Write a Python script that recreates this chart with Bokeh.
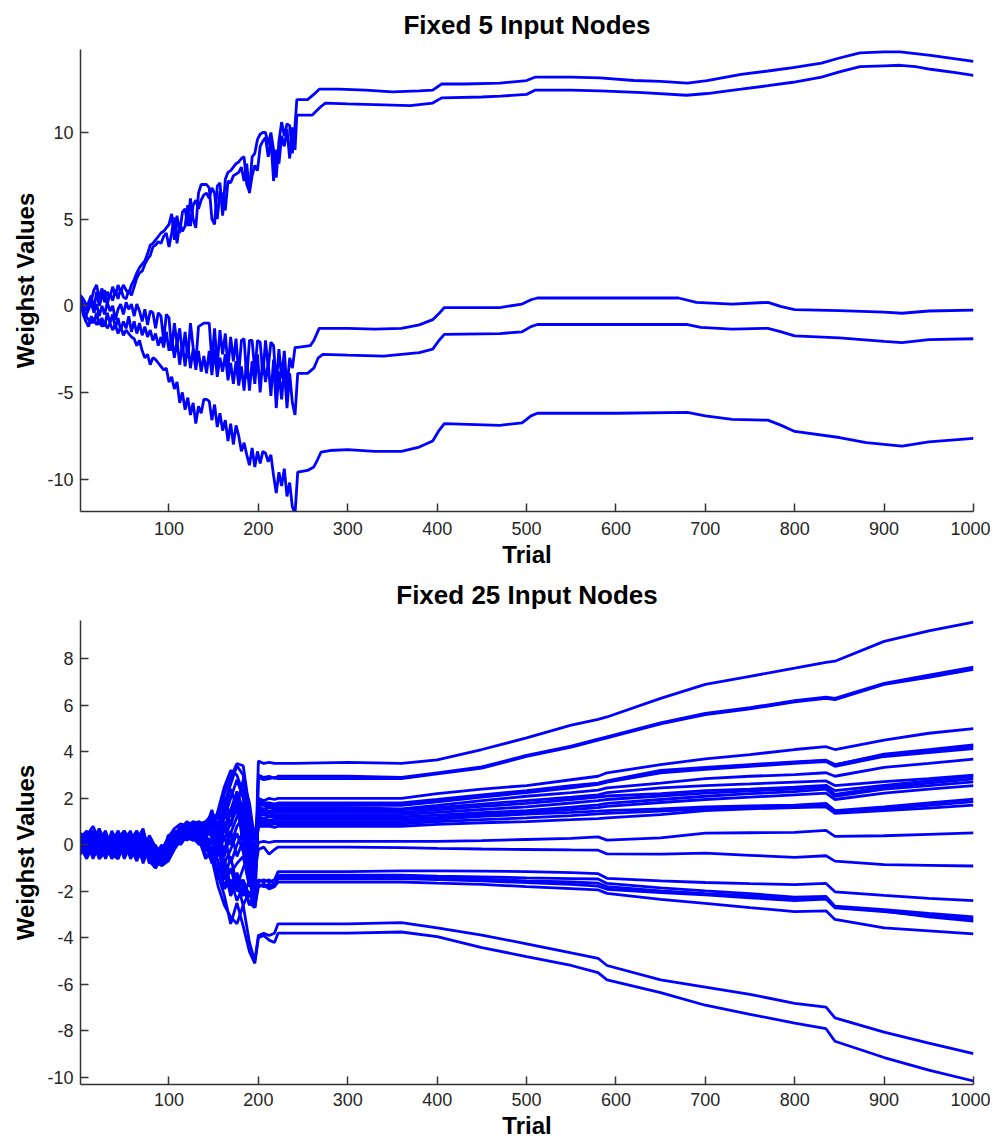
from bokeh.plotting import figure
from bokeh.layouts import column
from bokeh.models import Range1d, FixedTicker
from bokeh.embed import file_html
from bokeh.resources import INLINE

# ---------------- data: Fixed 5 Input Nodes ----------------
TOP_EARLY_T = [1, 4, 7, 10, 13, 16, 19, 22, 25, 28, 31, 34, 37, 40, 43, 46, 49, 52, 55, 58,
               61, 64, 67, 70, 73, 76, 79, 82, 85, 88, 91, 94, 97, 100, 103, 106, 109, 112, 115, 118,
               121, 124, 127, 130, 133, 136, 139, 142, 145, 148, 151, 154, 157, 160, 163, 166, 169, 172, 175, 178,
               181, 184, 187, 190, 193, 196, 199, 202, 205, 208, 211, 214, 217, 220, 223, 226, 229, 232, 235, 238,
               241]

w5_a_early = [0.6, 0.4, 0.1, -0.2, 0.3, 0.9, 1.2, 0.4, 1.0, 0.2,
              0.8, 0.5, 1.1, 0.6, 1.2, 0.8, 1.2, 0.9, 0.7, 1.2,
              1.5, 1.9, 2.2, 2.4, 2.6, 3.0, 3.5, 3.6, 3.8, 4.0,
              4.2, 4.3, 4.5, 4.7, 5.3, 3.8, 5.2, 4.2, 5.4, 5.6,
              4.6, 6.2, 5.0, 4.5, 6.5, 7.0, 7.0, 7.0, 6.8, 5.0,
              4.7, 6.9, 7.1, 5.2, 7.3, 7.7, 7.8, 8.0, 8.2, 8.3,
              8.5, 8.6, 7.0, 6.6, 8.6, 8.8, 9.6, 9.9, 10.0, 10.0,
              9.3, 10.0, 9.0, 7.4, 9.5, 10.6, 9.8, 10.5, 10.4, 8.8,
              10.4]
w5_a_late_t = [243, 248, 255, 262, 268, 290, 320, 350, 380, 395, 405, 430, 470, 500, 510, 550, 582,
               620, 650, 680, 702, 740, 770, 798, 830, 850, 873, 900, 918, 935, 952, 980, 1000]
w5_a_late = [11.9, 11.9, 11.9, 12.2, 12.5, 12.5, 12.45, 12.35, 12.4, 12.45, 12.8, 12.8, 12.85, 13.0, 13.2,
             13.2, 13.15, 13.0, 12.95, 12.85, 13.0, 13.35, 13.55, 13.75, 14.0, 14.3, 14.6, 14.65, 14.65,
             14.55, 14.45, 14.25, 14.1]

w5_b_early = [0.5, 0.0, -0.3, 0.2, 0.6, -0.2, 0.8, 0.0, 0.5, 0.9,
              0.1, 0.7, 0.3, 0.9, 0.4, 1.0, 0.5, 0.4, 0.9, 0.6,
              1.1, 1.6, 1.9, 2.0, 2.4, 2.7, 2.9, 3.4, 3.5, 3.7,
              3.6, 4.0, 4.2, 3.4, 4.2, 5.1, 3.6, 4.8, 4.3, 4.6,
              5.8, 4.6, 5.8, 6.1, 5.6, 6.1, 6.4, 6.5, 6.2, 6.8,
              6.5, 5.0, 6.6, 6.4, 5.5, 7.2, 7.1, 7.5, 7.6, 7.7,
              8.0, 7.2, 8.2, 6.5, 7.5, 8.1, 7.8, 9.2, 9.5, 9.7,
              8.6, 9.6, 7.2, 9.0, 8.2, 9.8, 9.2, 10.2, 8.5, 10.3,
              9.0]
w5_b_late_t = [243, 248, 260, 270, 275, 300, 340, 370, 395, 405, 450, 471, 500, 510, 550, 582, 630,
               679, 702, 740, 770, 798, 830, 850, 873, 900, 918, 935, 952, 980, 1000]
w5_b_late = [11.0, 11.0, 11.0, 11.5, 11.7, 11.65, 11.6, 11.55, 11.7, 12.0, 12.05, 12.1, 12.2, 12.45, 12.45,
             12.4, 12.3, 12.15, 12.25, 12.5, 12.7, 12.9, 13.2, 13.5, 13.8, 13.85, 13.88, 13.8, 13.65,
             13.45, 13.3]

w5_c_early = [0.3, -0.3, -0.6, -0.2, 0.2, -0.4, 0.1, -0.6, 0.0, -0.5,
              0.2, -0.3, 0.0, -0.8, -0.2, 0.1, -0.5, 0.2, -0.2, 0.1,
              -0.6, 0.1, -0.3, -0.9, -0.2, -1.1, -0.3, -0.4, -1.3, -0.4,
              -0.6, -2.0, -0.5, -0.7, -2.6, -1.0, -2.2, -1.3, -2.8, -1.5,
              -3.0, -1.0, -2.4, -3.3, -1.2, -1.1, -1.0, -1.0, -1.0, -3.2,
              -1.3, -3.5, -1.4, -2.8, -1.6, -3.6, -1.8, -3.2, -1.9, -4.0,
              -2.0, -1.9, -4.2, -2.0, -2.0, -3.8, -2.0, -2.1, -4.0, -2.0,
              -3.6, -2.1, -2.3, -4.6, -2.5, -4.2, -2.6, -4.8, -3.0, -3.6,
              -2.4]
w5_c_late_t = [244, 258, 262, 268, 275, 300, 330, 360, 380, 395, 402, 408, 450, 470, 495, 505, 512,
               550, 600, 670, 690, 730, 770, 785, 800, 850, 900, 920, 950, 1000]
w5_c_late = [-2.4, -2.3, -2.0, -1.3, -1.3, -1.3, -1.35, -1.3, -1.1, -0.8, -0.45, -0.1, -0.1, -0.1, 0.1,
             0.35, 0.45, 0.45, 0.45, 0.45, 0.2, 0.1, 0.2, -0.05, -0.22, -0.28, -0.36, -0.43, -0.3, -0.25]

w5_d_early = [0.2, -0.5, -0.9, -1.2, -0.6, -1.0, -0.4, -1.1, -0.7, -1.2,
              -0.4, -1.0, -0.5, -1.3, -0.7, -1.4, -0.9, -1.3, -0.6, -1.5,
              -0.9, -1.6, -1.0, -1.7, -1.2, -1.8, -1.4, -2.0, -1.6, -2.3,
              -1.8, -2.4, -1.5, -2.6, -1.8, -3.0, -2.0, -3.4, -2.2, -3.5,
              -2.2, -3.6, -2.5, -3.7, -2.6, -3.8, -2.9, -3.9, -2.6, -4.0,
              -2.5, -4.1, -3.0, -3.8, -2.8, -4.3, -3.3, -4.5, -3.2, -4.6,
              -3.5, -4.9, -3.0, -4.9, -3.2, -4.5, -2.8, -5.0, -3.0, -4.4,
              -3.3, -5.2, -3.1, -5.9, -3.8, -5.4, -3.6, -5.9, -3.9, -5.6,
              -6.3]
w5_d_late_t = [244, 255, 262, 267, 272, 300, 340, 380, 395, 402, 408, 470, 495, 505, 512, 600, 680,
               695, 730, 770, 785, 800, 850, 900, 920, 950, 1000]
w5_d_late = [-3.9, -3.9, -3.6, -3.0, -2.8, -2.85, -2.9, -2.7, -2.5, -2.0, -1.65, -1.6, -1.5, -1.2, -1.08,
             -1.08, -1.08, -1.25, -1.35, -1.3, -1.5, -1.74, -1.85, -2.05, -2.12, -1.95, -1.9]

w5_e_early = [0.0, -0.3, -0.6, -0.8, -1.0, -0.7, -1.1, -0.8, -1.2, -0.9,
              -1.3, -1.0, -1.4, -1.1, -1.6, -1.2, -1.7, -1.4, -1.6, -1.8,
              -1.9, -2.3, -2.0, -2.6, -3.0, -2.8, -3.4, -3.0, -3.1, -3.3,
              -3.5, -3.7, -3.6, -4.4, -4.1, -4.8, -4.4, -5.6, -5.0, -6.0,
              -5.3, -6.3, -5.6, -6.8, -5.8, -6.2, -5.4, -5.4, -5.5, -6.6,
              -5.7, -7.0, -6.2, -7.2, -6.6, -7.8, -6.8, -8.0, -6.9, -7.5,
              -8.4, -7.9, -8.6, -9.2, -8.2, -9.3, -8.4, -9.1, -8.4, -8.5,
              -9.0, -8.6, -9.8, -10.8, -9.6, -10.4, -9.4, -11.0, -10.2, -11.6,
              -12.0]
w5_e_late_t = [244, 255, 262, 266, 270, 280, 300, 330, 360, 380, 395, 402, 408, 470, 495, 505, 512,
               600, 680, 700, 730, 770, 785, 800, 850, 880, 900, 920, 950, 1000]
w5_e_late = [-9.6, -9.5, -9.3, -8.9, -8.45, -8.35, -8.3, -8.4, -8.4, -8.15, -7.8, -7.2, -6.8, -6.9, -6.75,
             -6.35, -6.2, -6.2, -6.15, -6.35, -6.55, -6.6, -6.9, -7.25, -7.6, -7.9, -8.0, -8.1, -7.85, -7.65]

# ---------------- data: Fixed 25 Input Nodes ----------------
BOT_T = [1, 8, 15, 22, 29, 36, 43, 50, 57, 64, 71, 78, 85, 92, 99, 106, 113, 120, 127, 134, 141,
         148, 155, 162, 169, 176, 183, 190, 196, 200, 206, 212, 218, 222,
         240, 300, 360, 400, 450, 500, 550, 580, 590, 650, 700, 750, 800, 835, 845, 900, 950, 1000]

w25_01 = [0.3, 0.6, 0.1, 0.7, 0.0, 0.5, 0.2, 0.6, 0.1, 0.5, -0.2, 0.1, -0.3, -0.2, 0.3, 0.7, 0.9, 0.8, 1.0, 0.9, 1.0,
          1.3, 1.2, 2.2, 2.9, 3.5, 3.4, 1.5, -1.8, 3.6, 3.5, 3.55, 3.5, 3.5,
          3.5, 3.55, 3.5, 3.65, 4.1, 4.6, 5.15, 5.4, 5.5, 6.3, 6.9, 7.25, 7.6, 7.85, 7.9, 8.75, 9.2, 9.58]
w25_02 = [0.0, 0.4, 0.8, 0.2, 0.3, -0.1, 0.6, 0.0, 0.5, -0.1, 0.6, -0.2, -0.5, -0.1, 0.1, 0.5, 0.7, 1.0, 0.8, 0.9, 0.6,
          1.0, 0.8, 1.8, 2.6, 3.4, 3.0, 0.5, -2.4, 3.0, 2.9, 2.95, 2.85, 2.95,
          2.95, 2.95, 2.9, 3.1, 3.35, 3.85, 4.25, 4.55, 4.65, 5.25, 5.65, 5.9, 6.2, 6.35, 6.3, 6.95, 7.3, 7.64]
w25_03 = [0.2, -0.2, 0.5, -0.4, 0.2, 0.4, -0.3, 0.3, -0.2, 0.4, 0.1, 0.0, -0.6, -0.4, 0.0, 0.3, 0.5, 0.6, 0.9, 0.7, 0.8,
          0.6, 1.5, 2.5, 3.2, 3.0, 2.2, -0.5, -2.6, 2.9, 2.8, 2.85, 2.9, 2.85,
          2.85, 2.85, 2.85, 3.05, 3.3, 3.8, 4.2, 4.5, 4.6, 5.2, 5.6, 5.85, 6.15, 6.3, 6.25, 6.9, 7.2, 7.55]
w25_04 = [-0.3, 0.5, 0.0, 0.6, -0.2, 0.3, 0.5, -0.1, 0.4, 0.0, 0.5, -0.4, -0.1, -0.6, 0.2, 0.4, 0.8, 0.6, 0.9, 1.0, 0.7,
          1.5, 0.5, 1.2, 2.0, 2.8, 2.0, 0.0, -1.5, 2.0, 1.9, 2.0, 1.95, 2.0,
          2.0, 2.0, 2.0, 2.2, 2.4, 2.55, 2.8, 2.95, 3.1, 3.45, 3.7, 3.88, 4.1, 4.22, 4.1, 4.5, 4.8, 5.0]
w25_05 = [0.4, 0.0, -0.4, 0.3, 0.1, -0.3, 0.2, 0.5, -0.3, 0.3, -0.5, 0.2, -0.2, -0.4, 0.3, 0.6, 0.4, 0.9, 0.5, 0.8, 0.9,
          0.3, 1.0, 0.5, 1.5, 2.3, 1.5, -0.5, -1.0, 1.9, 1.8, 1.8, 1.75, 1.8,
          1.8, 1.8, 1.8, 1.95, 2.15, 2.33, 2.55, 2.65, 2.75, 3.2, 3.33, 3.45, 3.57, 3.64, 3.45, 3.88, 4.03, 4.23]
w25_06 = [0.2, -0.1, 0.3, 0.0, -0.4, 0.5, 0.0, -0.2, 0.5, 0.1, -0.4, 0.4, -0.1, -0.3, 0.1, 0.4, 0.5, 0.9, 0.6, 1.0, 0.5,
          1.0, 0.4, 1.4, 2.4, 1.6, 2.8, 1.8, 0.2, 1.75, 1.75, 1.7, 1.75, 1.75,
          1.75, 1.75, 1.72, 1.9, 2.1, 2.3, 2.5, 2.62, 2.72, 3.15, 3.3, 3.42, 3.55, 3.62, 3.43, 3.9, 4.1, 4.3]
w25_07 = [-0.1, 0.3, 0.6, -0.5, 0.4, 0.1, -0.5, 0.2, 0.6, -0.6, 0.3, -0.3, -0.8, -0.3, -0.2, 0.2, 0.6, 0.4, 0.7, 0.5, 1.0,
          0.8, 0.2, 1.3, 0.8, 1.8, 0.8, -1.0, -1.2, 1.7, 1.7, 1.65, 1.7, 1.7,
          1.7, 1.7, 1.7, 1.85, 2.05, 2.25, 2.45, 2.6, 2.7, 3.1, 3.25, 3.38, 3.5, 3.58, 3.38, 3.8, 3.97, 4.14]
w25_08 = [0.1, -0.4, 0.2, 0.5, -0.4, 0.6, 0.0, -0.3, 0.2, 0.6, -0.1, 0.1, -0.7, -0.1, -0.4, 0.5, 0.3, 0.7, 0.4, 0.6, 0.5,
          1.1, 0.0, 0.8, 1.4, 2.0, 2.4, 1.2, -0.5, 1.6, 1.55, 1.6, 1.6, 1.6,
          1.6, 1.6, 1.55, 1.7, 1.9, 2.09, 2.25, 2.35, 2.45, 2.65, 2.85, 2.95, 3.02, 3.1, 2.95, 3.33, 3.5, 3.69]
w25_09 = [-0.3, 0.2, 0.3, 0.5, -0.1, -0.4, 0.3, 0.6, 0.0, -0.5, 0.1, 0.1, -0.2, -0.6, 0.4, 0.5, 0.6, 0.3, 0.8, 0.4, 0.7,
          0.7, 1.4, 2.0, 1.2, 2.2, 1.0, 0.2, -1.0, 1.5, 1.5, 1.45, 1.5, 1.5,
          1.5, 1.5, 1.5, 1.6, 1.75, 1.9, 2.05, 2.15, 2.25, 2.45, 2.55, 2.62, 2.7, 2.75, 2.55, 2.72, 2.85, 3.0]
w25_10 = [0.5, 0.2, -0.3, 0.0, 0.3, -0.5, 0.4, -0.2, 0.0, 0.2, 0.7, -0.6, 0.0, -0.8, 0.1, 0.0, 0.5, 0.3, 0.6, 0.3, 0.4,
          0.5, 1.3, 0.2, 1.0, 1.5, 0.5, -1.5, -2.7, 1.4, 1.4, 1.35, 1.4, 1.4,
          1.4, 1.4, 1.4, 1.5, 1.65, 1.78, 1.95, 2.05, 2.1, 2.2, 2.33, 2.4, 2.48, 2.56, 2.33, 2.56, 2.75, 2.95]
w25_11 = [-0.4, 0.1, 0.4, -0.6, 0.0, 0.2, -0.2, 0.4, -0.5, 0.1, -0.3, 0.0, -0.9, -0.5, -0.6, 0.1, 0.2, 0.5, 0.3, 0.4, 0.2,
          -0.2, 0.6, -0.5, 0.5, 1.2, 1.8, 0.8, -0.8, 1.3, 1.3, 1.25, 1.3, 1.3,
          1.3, 1.3, 1.3, 1.4, 1.52, 1.63, 1.8, 1.9, 1.95, 2.1, 2.22, 2.32, 2.4, 2.48, 2.17, 2.48, 2.65, 2.84]
w25_12 = [0.2, -0.5, 0.0, 0.4, -0.3, 0.0, 0.6, -0.4, 0.3, -0.4, 0.2, -0.8, -0.4, 0.0, -0.5, 0.4, 0.0, 0.4, 0.7, 0.2, 0.3,
          0.9, -0.3, 1.0, 0.0, 0.8, 1.2, -0.3, -0.6, 1.2, 1.15, 1.2, 1.2, 1.2,
          1.2, 1.2, 1.2, 1.28, 1.38, 1.47, 1.62, 1.72, 1.78, 1.95, 2.09, 2.2, 2.29, 2.4, 2.09, 2.4, 2.55, 2.71]
w25_13 = [0.4, 0.1, -0.5, -0.1, 0.4, 0.1, -0.4, 0.0, 0.4, -0.3, 0.5, -0.1, -0.4, -0.5, -0.1, 0.6, 0.2, 0.7, 0.2, 0.6, 0.4,
          0.0, 0.7, 1.6, 0.9, 1.8, 0.0, -1.0, -1.8, 1.1, 1.1, 1.05, 1.1, 1.1,
          1.1, 1.1, 1.1, 1.18, 1.3, 1.4, 1.52, 1.6, 1.65, 1.82, 1.95, 2.05, 2.15, 2.22, 1.95, 2.22, 2.4, 2.55]
w25_14 = [0.3, 0.5, -0.2, 0.2, 0.6, -0.2, 0.1, 0.3, -0.4, 0.4, 0.0, -0.2, -0.3, -0.7, 0.0, 0.2, 0.7, 0.2, 0.5, 0.8, 0.1,
          0.1, 0.9, -0.8, -0.2, 0.5, -0.3, -1.8, -1.0, 1.0, 1.0, 0.95, 1.0, 1.0,
          1.0, 1.0, 1.0, 1.1, 1.22, 1.32, 1.4, 1.45, 1.47, 1.55, 1.63, 1.67, 1.71, 1.78, 1.47, 1.63, 1.8, 1.97]
w25_15 = [-0.2, 0.3, 0.2, -0.2, 0.1, 0.4, -0.6, 0.1, 0.5, -0.2, 0.4, -0.4, -0.5, -0.3, 0.2, 0.3, 0.4, 0.8, 0.6, 0.5, 0.6,
          0.4, -0.5, 0.4, -0.8, 0.0, 0.6, -0.8, -0.8, 0.9, 0.9, 0.85, 0.9, 0.9,
          0.9, 0.9, 0.9, 1.0, 1.08, 1.16, 1.26, 1.33, 1.35, 1.45, 1.55, 1.6, 1.63, 1.66, 1.4, 1.55, 1.7, 1.86]
w25_16 = [0.0, -0.3, 0.5, 0.1, -0.5, 0.2, 0.3, -0.5, 0.1, 0.3, -0.6, 0.2, -0.6, -0.2, -0.3, 0.0, 0.3, 0.6, 0.4, 0.7, 0.8,
          1.2, 0.3, -0.2, 0.6, -0.5, 0.2, -1.2, -0.2, 0.8, 0.8, 0.8, 0.75, 0.8,
          0.8, 0.8, 0.8, 0.88, 0.95, 1.0, 1.08, 1.13, 1.16, 1.3, 1.47, 1.55, 1.6, 1.63, 1.35, 1.47, 1.58, 1.71]
w25_17 = [0.1, 0.3, -0.4, 0.0, 0.2, 0.0, -0.2, 0.2, -0.2, 0.0, 0.3, -0.5, -0.7, -0.3, -0.4, 0.1, 0.3, 0.4, 0.2, 0.3, 0.2,
          -0.3, 0.4, -1.0, -1.2, -0.8, -0.5, -1.8, -0.6, 0.1, 0.15, 0.1, 0.15, 0.15,
          0.15, 0.15, 0.15, 0.15, 0.18, 0.23, 0.28, 0.34, 0.2, 0.3, 0.5, 0.52, 0.54, 0.62, 0.36, 0.39, 0.45, 0.51]
w25_18 = [-0.2, 0.0, 0.3, -0.3, 0.0, -0.5, 0.1, -0.3, 0.2, -0.5, -0.2, -0.6, -0.9, -0.8, -0.6, 0.0, 0.2, 0.3, 0.5, 0.2, 0.0,
          -0.6, 0.0, -1.5, -0.5, -1.8, -1.0, -0.4, -1.2, -0.2, -0.1, -0.4, -0.2, -0.1,
          -0.1, -0.1, -0.12, -0.15, -0.18, -0.2, -0.22, -0.23, -0.39, -0.4, -0.36, -0.45, -0.54, -0.47, -0.7, -0.85, -0.88, -0.91]
w25_19 = [0.0, -0.4, 0.1, -0.6, -0.3, 0.2, -0.5, 0.0, -0.3, 0.1, -0.4, -0.3, -0.8, -0.6, -0.2, 0.1, 0.4, 0.2, 0.4, 0.1, -0.2,
          -0.4, -1.2, -0.6, -1.8, -1.2, -1.8, -2.5, -2.7, -1.6, -1.5, -1.6, -1.5, -1.15,
          -1.15, -1.15, -1.12, -1.12, -1.13, -1.15, -1.2, -1.24, -1.44, -1.55, -1.62, -1.67, -1.71, -1.66, -2.02, -2.17, -2.3, -2.4]
w25_20 = [-0.3, 0.2, -0.6, 0.1, -0.5, -0.2, 0.2, -0.6, 0.0, -0.2, 0.1, -0.5, -0.6, -0.9, -0.7, -0.1, 0.3, 0.5, 0.3, 0.0, 0.3,
          0.2, -0.8, -1.8, -1.0, -2.0, -1.5, -2.2, -2.4, -1.7, -1.8, -1.7, -1.8, -1.3,
          -1.3, -1.3, -1.3, -1.35, -1.38, -1.42, -1.45, -1.47, -1.66, -1.85, -1.98, -2.1, -2.25, -2.22, -2.64, -2.79, -2.95, -3.1]
w25_21 = [0.2, -0.3, -0.1, -0.4, 0.1, -0.6, -0.2, 0.3, -0.6, -0.1, -0.7, -0.2, -0.4, -0.6, -0.3, 0.3, 0.2, 0.4, 0.6, 0.3, 0.1,
          -0.8, -0.2, -1.2, -2.0, -1.4, -2.2, -1.5, -2.5, -1.5, -1.6, -1.5, -1.7, -1.45,
          -1.45, -1.45, -1.45, -1.5, -1.55, -1.63, -1.7, -1.78, -1.91, -2.05, -2.15, -2.28, -2.4, -2.33, -2.71, -2.87, -3.05, -3.2]
w25_22 = [-0.1, -0.6, 0.0, 0.3, -0.6, 0.1, -0.4, -0.1, 0.3, -0.3, 0.2, -0.4, -1.0, -0.5, -0.1, 0.2, 0.1, 0.6, 0.4, 0.7, -0.1,
          -0.1, -0.7, -1.9, -1.5, -2.4, -1.8, -2.6, -2.0, -1.8, -1.7, -1.8, -1.7, -1.4,
          -1.4, -1.38, -1.4, -1.42, -1.48, -1.55, -1.6, -1.65, -1.8, -1.98, -2.1, -2.2, -2.33, -2.3, -2.68, -2.85, -3.1, -3.28]
w25_23 = [-0.4, 0.1, -0.5, -0.2, 0.2, -0.4, -0.6, 0.1, -0.1, -0.7, 0.0, -0.7, -1.0, -0.4, -0.7, -0.2, 0.2, 0.3, 0.2, 0.5, 0.0,
          -0.5, -1.5, -1.0, -2.2, -1.6, -2.6, -2.0, -2.7, -1.8, -1.7, -1.9, -1.8, -1.6,
          -1.6, -1.6, -1.6, -1.65, -1.7, -1.8, -1.88, -1.94, -2.09, -2.35, -2.52, -2.7, -2.87, -2.84, -3.21, -3.57, -3.7, -3.83]
w25_24 = [0.3, -0.2, 0.4, -0.5, 0.5, -0.1, 0.2, -0.4, 0.4, -0.4, 0.3, -0.3, -0.5, -0.9, -0.2, 0.3, 0.5, 0.4, 0.2, 0.3, -0.4,
          -0.6, -1.8, -2.6, -3.1, -3.4, -2.6, -4.2, -5.0, -3.9, -3.8, -3.9, -3.8, -3.4,
          -3.4, -3.4, -3.35, -3.57, -3.88, -4.26, -4.65, -4.88, -5.19, -5.81, -6.12, -6.43, -6.82, -6.98, -7.44, -8.06, -8.53, -8.98]
w25_25 = [-0.2, 0.4, -0.3, 0.6, -0.4, 0.3, -0.5, 0.5, -0.5, 0.6, -0.8, 0.0, -0.4, -0.8, -0.5, 0.3, 0.6, 0.4, 0.3, 0.2, -0.6,
          -0.2, -1.3, -2.2, -3.4, -2.5, -3.5, -4.6, -5.1, -4.0, -3.9, -4.1, -4.2, -3.8,
          -3.8, -3.8, -3.75, -3.95, -4.42, -4.81, -5.19, -5.5, -5.81, -6.36, -6.9, -7.29, -7.67, -7.91, -8.45, -9.15, -9.69, -10.16]

X_TICKS = [100, 200, 300, 400, 500, 600, 700, 800, 900, 1000]
Y_TICKS_TOP = [-10, -5, 0, 5, 10]
Y_TICKS_BOT = [-10, -8, -6, -4, -2, 0, 2, 4, 6, 8]

TITLE_TOP = "Fixed 5 Input Nodes"
TITLE_BOT = "Fixed 25 Input Nodes"
X_LABEL = "Trial"
Y_LABEL = "Weighst Values"

# ---------------- styling ----------------
FONT = "Liberation Sans"
BLUE = "#0000ff"
AXIS_COLOR = "#333333"


def style(p, title, yticks, title_standoff, xlab_standoff):
    p.title.text = title
    p.title.align = "center"
    p.title.vertical_align = "top"
    p.title.text_font = FONT
    p.title.text_font_size = "26px"
    p.title.text_font_style = "bold"
    p.title.text_color = "black"
    p.title.standoff = title_standoff
    p.grid.visible = False
    p.outline_line_color = None
    p.background_fill_color = "white"
    p.border_fill_color = "white"
    p.xaxis.ticker = FixedTicker(ticks=X_TICKS)
    p.yaxis.ticker = FixedTicker(ticks=yticks)
    p.xaxis.major_label_overrides = {t: str(t) for t in X_TICKS}
    p.yaxis.major_label_overrides = {t: str(t) for t in yticks}
    p.xaxis.axis_label = X_LABEL
    p.yaxis.axis_label = Y_LABEL
    for ax in (p.xaxis[0], p.yaxis[0]):
        ax.axis_line_color = AXIS_COLOR
        ax.axis_line_width = 1.5
        ax.major_tick_line_color = AXIS_COLOR
        ax.major_tick_line_width = 1.5
        ax.major_tick_in = 8
        ax.major_tick_out = 0
        ax.minor_tick_line_color = None
        ax.major_label_text_font = FONT
        ax.major_label_text_font_size = "18px"
        ax.major_label_text_color = "#262626"
        ax.axis_label_text_font = FONT
        ax.axis_label_text_font_size = "24px"
        ax.axis_label_text_font_style = "bold"
        ax.axis_label_text_color = "black"
    p.xaxis[0].major_label_standoff = xlab_standoff
    p.xaxis[0].axis_label_standoff = 3
    p.yaxis[0].major_label_standoff = 7
    p.yaxis[0].axis_label_standoff = 5


p1 = figure(width=990, height=570, x_range=Range1d(1, 1000), y_range=Range1d(-11.87, 14.79),
            min_border_left=80, min_border_right=17, min_border_top=49, min_border_bottom=57,
            output_backend="svg", toolbar_location=None)
style(p1, TITLE_TOP, Y_TICKS_TOP, 15, 10)

for early, lt, lv in [(w5_a_early, w5_a_late_t, w5_a_late),
                      (w5_b_early, w5_b_late_t, w5_b_late),
                      (w5_c_early, w5_c_late_t, w5_c_late),
                      (w5_d_early, w5_d_late_t, w5_d_late),
                      (w5_e_early, w5_e_late_t, w5_e_late)]:
    p1.line(TOP_EARLY_T + lt, early + lv, line_color=BLUE, line_width=2.8)

p2 = figure(width=990, height=571, x_range=Range1d(1, 1000), y_range=Range1d(-10.31, 9.65),
            min_border_left=80, min_border_right=17, min_border_top=48, min_border_bottom=55,
            output_backend="svg", toolbar_location=None)
style(p2, TITLE_BOT, Y_TICKS_BOT, 18, 8)

for s in [w25_01, w25_02, w25_03, w25_04, w25_05, w25_06, w25_07, w25_08, w25_09, w25_10,
          w25_11, w25_12, w25_13, w25_14, w25_15, w25_16, w25_17, w25_18, w25_19, w25_20,
          w25_21, w25_22, w25_23, w25_24, w25_25]:
    p2.line(BOT_T, s, line_color=BLUE, line_width=2.8)

layout = column(p1, p2, spacing=0)
open("out.html", "w").write(file_html(layout, INLINE))
